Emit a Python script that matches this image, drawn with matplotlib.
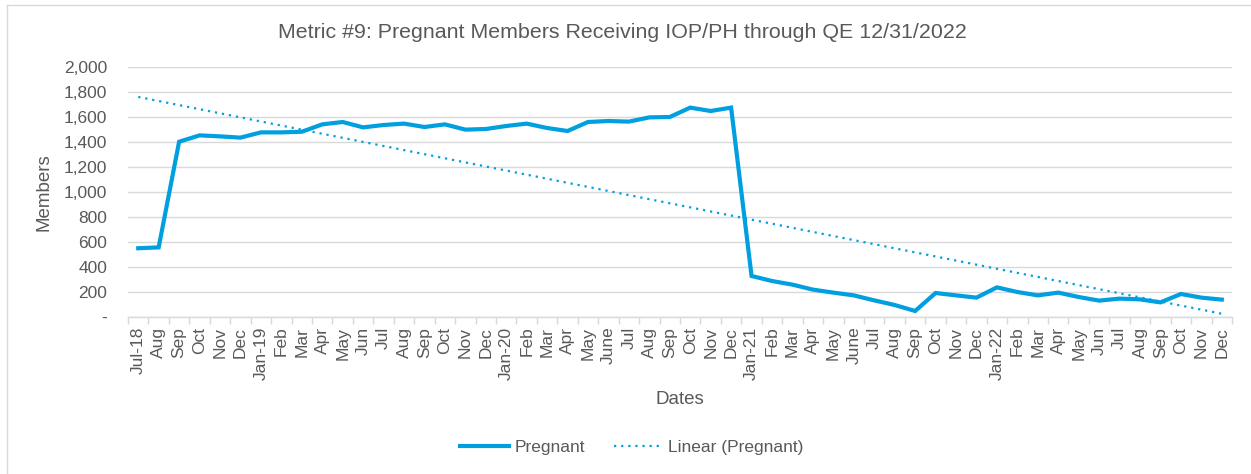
"""
Metric #9 : membres enceintes recevant IOP/PH, jusqu'au QE 12/31/2022.
Courbe mensuelle + tendance linéaire (comme la courbe de tendance Excel).
"""

import numpy as np
import matplotlib
matplotlib.use("Agg")
import matplotlib.pyplot as plt
from matplotlib.ticker import FixedLocator, FuncFormatter

# ---------------------------------------------------------------------------
# Données
# ---------------------------------------------------------------------------

mois = [
    "Jul-18", "Aug", "Sep", "Oct", "Nov", "Dec",
    "Jan-19", "Feb", "Mar", "Apr", "May", "Jun", "Jul", "Aug", "Sep", "Oct", "Nov", "Dec",
    "Jan-20", "Feb", "Mar", "Apr", "May", "June", "Jul", "Aug", "Sep", "Oct", "Nov", "Dec",
    "Jan-21", "Feb", "Mar", "Apr", "May", "June", "Jul", "Aug", "Sep", "Oct", "Nov", "Dec",
    "Jan-22", "Feb", "Mar", "Apr", "May", "Jun", "Jul", "Aug", "Sep", "Oct", "Nov", "Dec",
]

pregnant = [
    550, 557, 1402, 1453, 1445, 1435,
    1477, 1477, 1482, 1541, 1560, 1517, 1536, 1547, 1520, 1541, 1499, 1504,
    1528, 1547, 1512, 1488, 1560, 1568, 1563, 1597, 1600, 1675, 1648, 1675,
    328, 288, 259, 219, 195, 173, 133, 96, 48, 192, 173, 155,
    237, 200, 173, 195, 160, 131, 147, 141, 117, 184, 155, 139,
]

y_ticks = [0, 200, 400, 600, 800, 1000, 1200, 1400, 1600, 1800, 2000]

BLEU = "#009FDF"
GRIS_TEXTE = "#595959"
GRIS_GRILLE = "#D9D9D9"

plt.rcParams["font.family"] = ["Liberation Sans", "DejaVu Sans"]

# ---------------------------------------------------------------------------
# Graphique
# ---------------------------------------------------------------------------

W, H = 1251, 474
fig = plt.figure(figsize=(W / 100, H / 100), dpi=100)
ax = fig.add_axes([128 / W, 1 - 317 / H, 1104 / W, 250 / H])

x = np.arange(len(mois))
y = np.array(pregnant, dtype=float)

# tendance linéaire (moindres carrés)
pente, origine = np.polyfit(x, y, 1)
tendance = pente * x + origine

ax.plot(x, y, color=BLEU, lw=3.0, solid_joinstyle="miter", label="Pregnant", zorder=3)
ax.plot(x, tendance, color=BLEU, lw=1.6, linestyle=(0, (1, 2.2)),
        label="Linear (Pregnant)", zorder=2)

ax.set_xlim(-0.5, len(mois) - 0.5)
ax.set_ylim(0, 2000)

ax.yaxis.set_major_locator(FixedLocator(y_ticks))
ax.yaxis.set_major_formatter(FuncFormatter(lambda v, _: "-" if v == 0 else f"{int(v):,}"))
ax.grid(axis="y", color=GRIS_GRILLE, lw=1.0)
ax.set_axisbelow(True)

ax.set_xticks(x)
ax.set_xticklabels(mois, rotation=90)
ax.set_xticks(np.arange(-0.5, len(mois), 1.0), minor=True)
ax.tick_params(axis="x", which="major", length=0, pad=7, labelsize=12.5, colors=GRIS_TEXTE)
ax.tick_params(axis="x", which="minor", length=5, width=1, color=GRIS_GRILLE)
ax.tick_params(axis="y", length=0, pad=15, labelsize=12.5, colors=GRIS_TEXTE)

for cote in ["top", "right", "left"]:
    ax.spines[cote].set_visible(False)
ax.spines["bottom"].set_color(GRIS_GRILLE)
ax.spines["bottom"].set_linewidth(1.0)

ax.set_ylabel("Members", fontsize=13.5, color=GRIS_TEXTE, labelpad=8)
ax.set_xlabel("Dates", fontsize=13.5, color=GRIS_TEXTE, labelpad=8)

fig.text(622 / W, 1 - 33 / H, "Metric #9: Pregnant Members Receiving IOP/PH through QE 12/31/2022",
         ha="center", va="center", fontsize=15.4, color=GRIS_TEXTE)

leg = fig.legend(loc="center", bbox_to_anchor=(632 / W, 1 - 447 / H), ncol=2, frameon=False,
                 fontsize=12.5, handlelength=2.8, columnspacing=1.7, handletextpad=0.3)
for t in leg.get_texts():
    t.set_color(GRIS_TEXTE)

# cadre du graphique (bords gauche et haut visibles)
fig.add_artist(plt.Line2D([7 / W, 7 / W], [0, 1 - 5 / H], transform=fig.transFigure,
                          color=GRIS_GRILLE, lw=1))
fig.add_artist(plt.Line2D([7 / W, 1], [1 - 5 / H, 1 - 5 / H], transform=fig.transFigure,
                          color=GRIS_GRILLE, lw=1))

fig.savefig("out.png", dpi=100)
